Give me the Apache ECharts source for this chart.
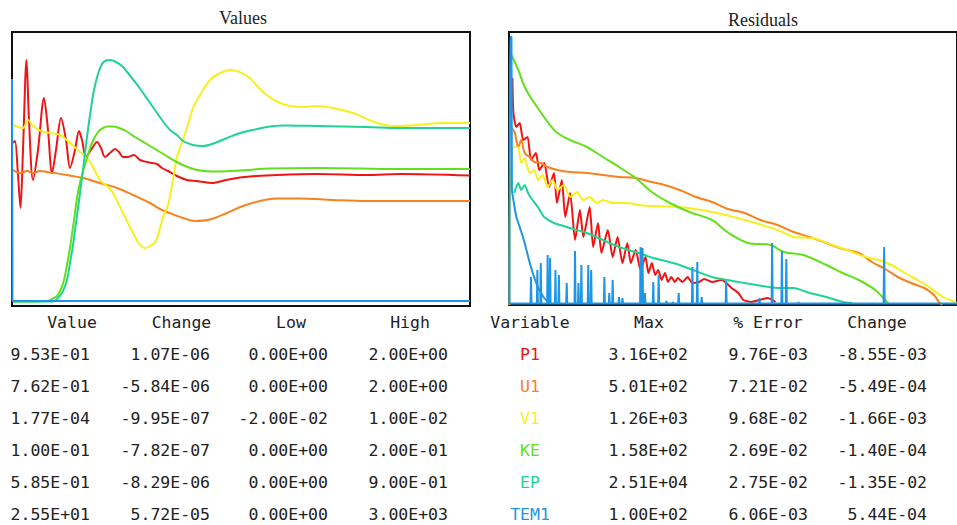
<!DOCTYPE html>
<html><head><meta charset="utf-8">
<script src="https://cdn.jsdelivr.net/npm/echarts@6/dist/echarts.min.js"></script>
<style>html,body{margin:0;padding:0;background:#fff}#c{width:957px;height:525px}</style>
</head><body><div id="c"></div>
<script>
// ---------- Values panel (iteration, scaled value) ----------
const valP1 = [[2,1.63],[6,1.65],[12,1.31],[17,0.98],[22,1.56],[29,2.46],[34,1.86],[42,1.26],[52,1.56],[64,2.08],[72,1.76],[80,1.33],[88,1.56],[98,1.88],[108,1.66],[116,1.38],[126,1.56],[134,1.75],[140,1.66],[148,1.49],[158,1.56],[170,1.64],[178,1.58],[186,1.49],[196,1.53],[206,1.57],[214,1.54],[222,1.49],[232,1.49],[244,1.51],[256,1.46],[270,1.44],[280,1.43],[290,1.42],[300,1.38],[312,1.35],[330,1.30],[350,1.26],[376,1.245],[400,1.23],[428,1.26],[456,1.285],[476,1.295],[530,1.31],[610,1.32],[710,1.31],[776,1.32],[916,1.305]];
const valU1 = [[2,1.36],[16,1.33],[30,1.35],[42,1.33],[56,1.35],[70,1.34],[110,1.31],[142,1.28],[176,1.23],[210,1.18],[242,1.11],[276,1.03],[296,0.97],[310,0.94],[342,0.88],[366,0.85],[396,0.865],[430,0.93],[462,1.00],[496,1.05],[530,1.075],[576,1.075],[642,1.06],[710,1.05],[916,1.05]];
const valV1 = [[2,1.81],[22,1.78],[32,1.86],[42,1.80],[58,1.75],[76,1.73],[96,1.71],[116,1.63],[136,1.54],[156,1.44],[176,1.26],[192,1.19],[202,1.13],[222,0.93],[242,0.73],[256,0.61],[266,0.58],[276,0.60],[288,0.65],[302,0.89],[312,1.01],[322,1.26],[330,1.49],[350,1.78],[362,1.98],[376,2.11],[396,2.26],[416,2.33],[436,2.36],[470,2.30],[502,2.14],[536,2.03],[576,1.99],[610,2.00],[642,1.98],[682,1.93],[722,1.845],[762,1.80],[810,1.81],[862,1.83],[916,1.83]];
const valKE = [[2,0.045],[70,0.05],[80,0.07],[90,0.10],[98,0.17],[104,0.26],[110,0.41],[116,0.58],[124,0.86],[132,1.14],[140,1.31],[150,1.48],[160,1.63],[172,1.74],[182,1.78],[192,1.795],[202,1.795],[212,1.785],[228,1.75],[246,1.69],[266,1.63],[286,1.57],[306,1.51],[326,1.45],[346,1.40],[366,1.365],[386,1.35],[416,1.345],[456,1.355],[516,1.375],[616,1.38],[776,1.37],[916,1.37]];
const valEP = [[2,0.045],[82,0.045],[92,0.08],[102,0.15],[110,0.26],[116,0.43],[122,0.61],[132,0.98],[140,1.28],[148,1.61],[156,1.91],[164,2.16],[172,2.32],[180,2.42],[188,2.455],[196,2.46],[206,2.445],[220,2.40],[232,2.33],[246,2.24],[258,2.16],[272,2.06],[286,1.96],[300,1.86],[316,1.76],[330,1.71],[342,1.65],[362,1.61],[382,1.60],[406,1.63],[430,1.68],[456,1.73],[482,1.76],[510,1.79],[542,1.805],[610,1.80],[710,1.79],[776,1.78],[916,1.78]];
const valTEM1 = [[0,2.27],[1,0.05],[916,0.05]];

// ---------- Residuals panel ----------
const resP1 = [[7,2.27],[9,1.92],[15,1.78],[22,1.82],[29,1.65],[38,1.68],[45,1.45],[55,1.52],[62,1.35],[72,1.42],[82,1.18],[92,1.32],[98,1.02],[108,1.25],[115,0.88],[125,1.12],[135,0.65],[145,0.95],[152,0.68],[165,0.98],[172,0.58],[182,0.82],[189,0.52],[202,0.75],[212,0.48],[222,0.68],[232,0.42],[242,0.62],[249,0.42],[259,0.55],[269,0.35],[279,0.48],[285,0.32],[292,0.42],[299,0.30],[305,0.35],[312,0.25],[319,0.32],[325,0.23],[332,0.28],[339,0.23],[345,0.27],[355,0.23],[365,0.28],[375,0.22],[389,0.23],[399,0.26],[415,0.23],[435,0.25],[442,0.23],[455,0.17],[469,0.12],[479,0.05],[495,0.03],[512,0.05],[529,0.07],[539,0.05],[545,0.03]];
const resU1 = [[6,1.77],[12,1.72],[19,1.58],[25,1.65],[32,1.52],[42,1.48],[52,1.43],[65,1.42],[79,1.38],[99,1.35],[125,1.33],[159,1.32],[192,1.30],[225,1.28],[259,1.27],[292,1.23],[318,1.20],[349,1.15],[382,1.08],[415,1.03],[448,0.96],[482,0.92],[514,0.85],[549,0.80],[582,0.73],[615,0.68],[649,0.62],[682,0.56],[715,0.52],[742,0.43],[769,0.36],[795,0.28],[822,0.22],[849,0.17],[869,0.10],[879,0.03],[886,0]];
const resV1 = [[1,0],[2,1.08],[9,1.58],[19,1.57],[25,1.42],[32,1.47],[42,1.32],[52,1.35],[59,1.25],[69,1.30],[79,1.18],[89,1.25],[99,1.15],[112,1.20],[125,1.08],[139,1.13],[152,1.05],[165,1.08],[179,1.02],[192,1.05],[212,1.02],[239,1.02],[275,0.995],[349,0.98],[415,0.93],[482,0.85],[549,0.75],[582,0.68],[622,0.67],[662,0.60],[702,0.53],[729,0.48],[755,0.45],[782,0.40],[809,0.32],[835,0.25],[862,0.17],[887,0.08],[902,0.05],[916,0.02]];
const resKE = [[5,2.50],[19,2.35],[32,2.18],[45,2.07],[59,1.97],[79,1.83],[99,1.72],[125,1.65],[159,1.58],[192,1.48],[225,1.38],[259,1.27],[292,1.13],[329,1.02],[369,0.93],[415,0.85],[449,0.72],[489,0.62],[535,0.60],[562,0.53],[602,0.50],[649,0.40],[682,0.32],[715,0.25],[749,0.15],[769,0.05],[775,0.02]];
const resEP = [[11,1.12],[14,1.17],[19,1.22],[25,1.15],[32,1.20],[39,1.12],[45,1.07],[59,0.98],[72,0.88],[92,0.82],[125,0.77],[159,0.72],[192,0.65],[225,0.58],[259,0.53],[292,0.475],[349,0.40],[415,0.28],[482,0.22],[549,0.17],[582,0.17],[615,0.12],[649,0.08],[682,0.03],[702,0.02]];
const resTEM1 = [[1,0.02],[2,2.68],[5,2.68],[6,1.15],[9,1.05],[15,0.88],[24,0.75],[32,0.62],[42,0.43],[52,0.27],[62,0.15],[72,0.07],[82,0.02]];
const resTEM1Base = 0.015;
const resTEM1SpikeIter = [45,58,65,79,84,95,102,118,135,142,148,162,168,195,205,212,225,232,269,273,278,295,306,322,335,347,375,385,394,444,512,538,558,567,592,767];
const resTEM1SpikeTop  = [0.28,0.35,0.42,0.50,0.47,0.35,0.30,0.22,0.54,0.22,0.40,0.40,0.35,0.28,0.12,0.25,0.08,0.07,0.58,0.57,0.12,0.23,0.30,0.04,0.03,0.12,0.38,0.43,0.08,0.24,0.07,0.62,0.54,0.46,0.03,0.58];

// ---------- Table ----------
const tableHeadLeft = ['Value','Change','Low','High'];
const tableHeadRight = ['Variable','Max','% Error','Change'];
const variables = ['P1','U1','V1','KE','EP','TEM1'];
const colValue  = ['9.53E-01','7.62E-01','1.77E-04','1.00E-01','5.85E-01','2.55E+01'];
const colChange = ['1.07E-06','-5.84E-06','-9.95E-07','-7.82E-07','-8.29E-06','5.72E-05'];
const colLow    = ['0.00E+00','0.00E+00','-2.00E-02','0.00E+00','0.00E+00','0.00E+00'];
const colHigh   = ['2.00E+00','2.00E+00','1.00E-02','2.00E-01','9.00E-01','3.00E+03'];
const colMax    = ['3.16E+02','5.01E+02','1.26E+03','1.58E+02','2.51E+04','1.00E+02'];
const colError  = ['9.76E-03','7.21E-02','9.68E-02','2.69E-02','2.75E-02','6.06E-03'];
const colResChange = ['-8.55E-03','-5.49E-04','-1.66E-03','-1.40E-04','-1.35E-02','5.44E-04'];

const colors = {P1:'#f01414', U1:'#f7821e', V1:'#f7f01e', KE:'#62e01a', EP:'#1ed490', TEM1:'#1e96e8'};

const spikeData = [[0,resTEM1Base]];
resTEM1SpikeIter.forEach((it,i)=>{
  spikeData.push([it-1,resTEM1Base],[it,resTEM1SpikeTop[i]],[it+1,resTEM1Base]);
});
spikeData.push([916,resTEM1Base]);

function ln(name, data, xi, smooth){
  return {type:'line', name, data, xAxisIndex:xi, yAxisIndex:xi, showSymbol:false,
    smooth: smooth===undefined?0.35:smooth, lineStyle:{color:colors[name], width:2}, itemStyle:{color:colors[name]}, animation:false};
}

const chart = echarts.init(document.getElementById('c'), null, {renderer:'svg'});
const textColor = '#222';
const mono = '16.5px "DejaVu Sans Mono", monospace';
const graphics = [];
function txt(s, x, y, align, color, font){
  graphics.push({type:'text', silent:true, style:{text:s, x, y, fill:color||textColor, font:font||mono,
    align, verticalAlign:'middle', textAlign:align, textVerticalAlign:'middle'}});
}
txt('Values', 243, 18, 'center', textColor, '18px "Liberation Serif", serif');
txt('Residuals', 763, 20, 'center', textColor, '18px "Liberation Serif", serif');
const headY = 322, rowY0 = 354.5, rowDy = 32;
[72,181.5,291,410].forEach((x,i)=>txt(tableHeadLeft[i], x, headY, 'center'));
[530,649,768,877].forEach((x,i)=>txt(tableHeadRight[i], x, headY, 'center'));
variables.forEach((v,i)=>{
  const y = rowY0 + i*rowDy;
  txt(colValue[i], 90, y, 'right');
  txt(colChange[i], 210, y, 'right');
  txt(colLow[i], 328, y, 'right');
  txt(colHigh[i], 448, y, 'right');
  txt(v, 530, y, 'center', colors[v]);
  txt(colMax[i], 688, y, 'right');
  txt(colError[i], 808, y, 'right');
  txt(colResChange[i], 927, y, 'right');
});

chart.setOption({
  animation:false,
  backgroundColor:'#fff',
  grid:[
    {left:12, top:32, width:458, height:274, show:true, borderColor:'#111', borderWidth:2, backgroundColor:'#fff'},
    {left:509, top:32, width:458, height:273, show:true, borderColor:'#111', borderWidth:2, backgroundColor:'#fff'}
  ],
  xAxis:[
    {type:'value', gridIndex:0, min:0, max:916, show:false},
    {type:'value', gridIndex:1, min:0, max:916, show:false}
  ],
  yAxis:[
    {type:'value', gridIndex:0, min:0, max:2.74, show:false},
    {type:'value', gridIndex:1, min:0, max:2.73, show:false}
  ],
  series:[
    ln('P1', valP1, 0, 0.3), ln('U1', valU1, 0), ln('V1', valV1, 0), ln('KE', valKE, 0), ln('EP', valEP, 0), ln('TEM1', valTEM1, 0, false),
    ln('P1', resP1, 1, 0.2), ln('U1', resU1, 1), ln('V1', resV1, 1, 0.2), ln('KE', resKE, 1), ln('EP', resEP, 1, 0.2),
    ln('TEM1', resTEM1, 1, 0.2), ln('TEM1', spikeData, 1, false)
  ],
  graphic: graphics
});
</script></body></html>
